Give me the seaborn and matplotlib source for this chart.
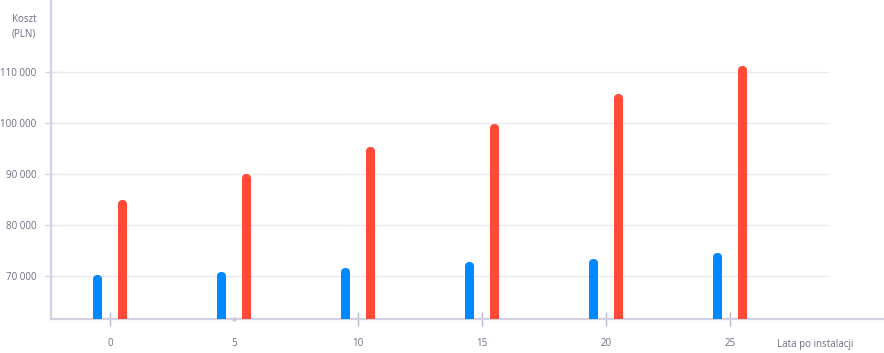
import pandas as pd
import matplotlib.pyplot as plt
import seaborn as sns

# Koszt (PLN) po latach od instalacji
years = [0, 5, 10, 15, 20, 25]
cost_blue = [70300, 70750, 71600, 72700, 73300, 74500]
cost_red = [85000, 90000, 95300, 99800, 105600, 111200]
series_names = ['Seria 1', 'Seria 2']
series_colors = ['#0088ff', '#ff4a37']

y_ticks = [70000, 80000, 90000, 100000, 110000]
y_labels = ['70 000', '80 000', '90 000', '100 000', '110 000']

axis_col = '#d4d1e2'
grid_col = '#ebebef'
text_col = '#6e6c80'


def main():
    df = pd.DataFrame({
        'year': years * 2,
        'cost': cost_blue + cost_red,
        'series': [series_names[0]] * len(years) + [series_names[1]] * len(years),
    })

    sns.set_style('white')
    plt.rcParams['font.family'] = ['Open Sans', 'DejaVu Sans']

    fig = plt.figure(figsize=(8.84, 3.53), dpi=100)
    ax = fig.add_axes([51 / 884, 34 / 353, 833 / 884, 319 / 353])

    sns.barplot(data=df, x='year', y='cost', hue='series', hue_order=series_names,
                palette=series_colors, saturation=1, native_scale=True,
                dodge=True, width=0.4, gap=0.99, legend=False, ax=ax, zorder=3)

    ax.set_xlim(-2.38, 31.21)
    ax.set_ylim(61600, 124120)

    # bars drawn as thick round-joined outlines -> rounded tops
    lw_px = 8
    shift = lw_px / 2 * (124120 - 61600) / (319)
    for p in ax.patches:
        p.set_edgecolor(p.get_facecolor())
        p.set_linewidth(lw_px * 0.72)
        p.set_joinstyle('round')
        p.set_height(p.get_height() - shift)

    for t in y_ticks:
        ax.axhline(t, xmin=0, xmax=(828 - 51) / 833, color=grid_col,
                   lw=1, zorder=1)

    ax.set_yticks(y_ticks)
    ax.set_yticklabels(y_labels)
    ax.set_xticks(years)
    ax.set_xticklabels([str(y) for y in years])
    ax.tick_params(axis='y', left=True, direction='inout', length=9, width=1,
                   color=axis_col, labelcolor=text_col, labelsize=7, pad=6)
    ax.tick_params(axis='x', bottom=True, direction='inout', length=10,
                   width=1, color='#b9b6ca', labelcolor=text_col,
                   labelsize=7, pad=9)
    ax.xaxis.get_major_ticks()[1].tick1line.set_visible(False)
    ax.scatter([years[1]], [61600], s=10, color='#c9c6d8', zorder=5,
               clip_on=False, linewidths=0)

    for side in ['top', 'right']:
        ax.spines[side].set_visible(False)
    for side in ['left', 'bottom']:
        ax.spines[side].set_color(axis_col)
        ax.spines[side].set_linewidth(1.6)
    ax.set_xlabel('')
    ax.set_ylabel('')

    fig.text(24 / 884, 1 - 27 / 353, 'Koszt\n(PLN)', ha='center', va='center',
             fontsize=7, color=text_col, linespacing=1.5)
    fig.text(815 / 884, 1 - 345 / 353, 'Lata po instalacji', ha='center',
             va='center', fontsize=7, color=text_col)

    fig.savefig('out.png', dpi=100)
    plt.close('all')


if __name__ == '__main__':
    main()
